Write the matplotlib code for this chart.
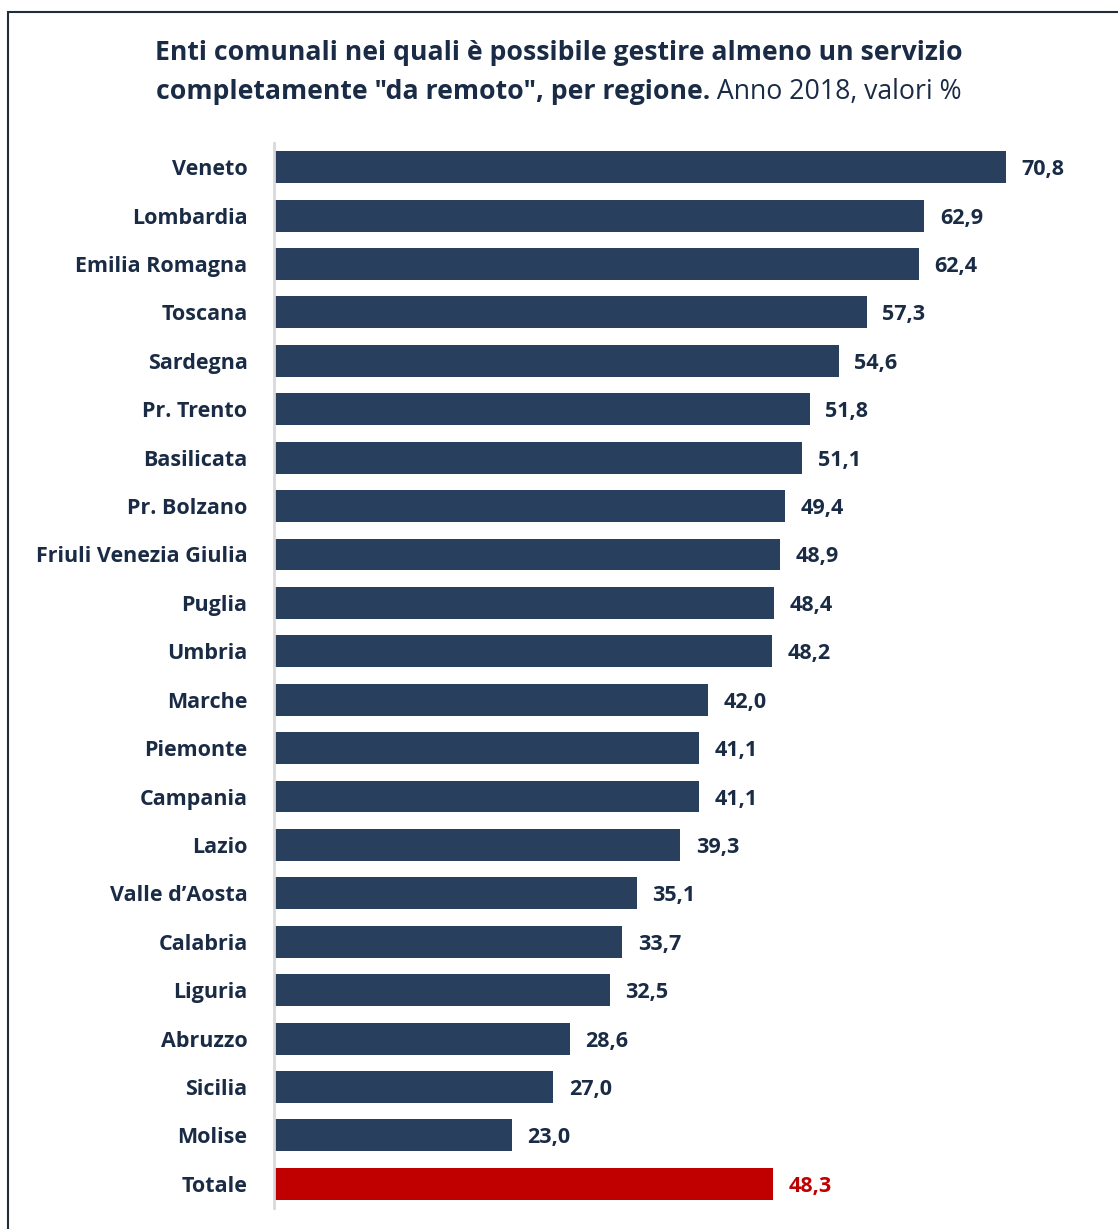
import matplotlib
matplotlib.use("Agg")
import matplotlib.pyplot as plt
from matplotlib.patches import Rectangle

regioni = ["Veneto", "Lombardia", "Emilia Romagna", "Toscana", "Sardegna",
           "Pr. Trento", "Basilicata", "Pr. Bolzano", "Friuli Venezia Giulia",
           "Puglia", "Umbria", "Marche", "Piemonte", "Campania", "Lazio",
           "Valle d\u2019Aosta", "Calabria", "Liguria", "Abruzzo", "Sicilia",
           "Molise", "Totale"]
valori = [70.8, 62.9, 62.4, 57.3, 54.6, 51.8, 51.1, 49.4, 48.9, 48.4, 48.2,
          42.0, 41.1, 41.1, 39.3, 35.1, 33.7, 32.5, 28.6, 27.0, 23.0, 48.3]

NAVY = "#283f5e"
RED = "#c00000"
TXT = "#1a2b45"

plt.rcParams['font.family'] = ['Open Sans', 'DejaVu Sans']

fig = plt.figure(figsize=(11.18, 12.29), dpi=100)
ax = fig.add_axes([274 / 1118, 1 - 1208 / 1229, 1 - 274 / 1118 - 0.015, (1208 - 143) / 1229])

colori = [RED if r == "Totale" else NAVY for r in regioni]
pos = list(range(len(regioni)))
ax.barh(pos, valori, height=0.66, color=colori, edgecolor="none")
ax.set_ylim(len(regioni) - 0.5, -0.5)
ax.set_xlim(0, 80.0)

for p, v, c in zip(pos, valori, colori):
    ax.text(v + 1.5, p, f"{v:.1f}".replace(".", ","), va="center_baseline", ha="left",
            fontsize=15.5, fontweight="bold", color=RED if c == RED else TXT)

ax.set_yticks(pos)
ax.set_yticklabels(regioni, fontsize=15.5, fontweight="bold", color=TXT)
ax.tick_params(axis="y", length=0, pad=19)
ax.set_xticks([])
for s in ["top", "right", "bottom"]:
    ax.spines[s].set_visible(False)
ax.spines["left"].set_color("#d9d9d9")
ax.spines["left"].set_linewidth(2)

# title
fig.text(0.5, 1 - 53 / 1229, "Enti comunali nei quali \u00e8 possibile gestire almeno un servizio",
         ha="center", va="center", fontsize=19.2, fontweight="bold", color=TXT)
t1 = fig.text(0.5, 1 - 92 / 1229, "completamente \"da remoto\", per regione.",
              ha="left", va="center", fontsize=19.2, fontweight="bold", color=TXT)
t2 = fig.text(0.5, 1 - 92 / 1229, " Anno 2018, valori %",
              ha="left", va="center", fontsize=19.2, color=TXT)
fig.canvas.draw()
r = fig.canvas.get_renderer()
w1 = t1.get_window_extent(r).width / fig.bbox.width
w2 = t2.get_window_extent(r).width / fig.bbox.width
x0 = 0.5 - (w1 + w2) / 2
t1.set_x(x0)
t2.set_x(x0 + w1)

# frame
fig.patches.append(Rectangle((8 / 1118, -0.05), 1.1, 1 - 12 / 1229 + 0.05,
                             transform=fig.transFigure, fill=False,
                             edgecolor="#1f2d3d", linewidth=1.5))

fig.savefig("out.png", dpi=100)
